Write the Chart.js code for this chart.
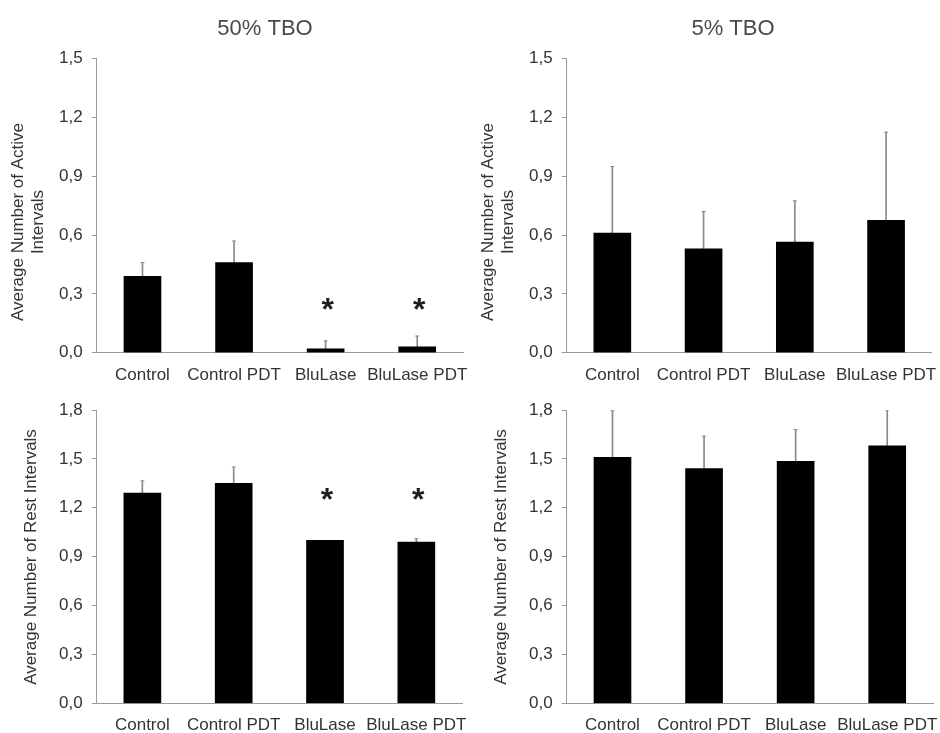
<!DOCTYPE html>
<html>
<head>
<meta charset="utf-8">
<script src="https://cdn.jsdelivr.net/npm/chart.js@4/dist/chart.umd.min.js"></script>
<style>
  html, body { margin: 0; padding: 0; background: #ffffff; }
  #wrap { position: relative; width: 940px; height: 733px; overflow: hidden; }
  .panel { position: absolute; }
</style>
</head>
<body>
<div id="wrap">
  <div class="panel" style="left:0;top:0;width:470px;height:385px"><canvas id="c1"></canvas></div>
  <div class="panel" style="left:470px;top:0;width:470px;height:385px"><canvas id="c2"></canvas></div>
  <div class="panel" style="left:0;top:385px;width:470px;height:348px"><canvas id="c3"></canvas></div>
  <div class="panel" style="left:470px;top:385px;width:470px;height:348px"><canvas id="c4"></canvas></div>
</div>
<script>
// ---- data ----
const categories = ['Control', 'Control PDT', 'BluLase', 'BluLase PDT'];

const panelTitles = ['50% TBO', '5% TBO'];
const activeAxisTitle = ['Average Number of Active', 'Intervals'];
const restAxisTitle = ['Average Number of Rest Intervals'];

const activeTickLabels = ['0,0', '0,3', '0,6', '0,9', '1,2', '1,5'];
const restTickLabels = ['0,0', '0,3', '0,6', '0,9', '1,2', '1,5', '1,8'];

// Active intervals (mean, upper SD)
const active50Mean = [0.39, 0.46, 0.02, 0.03];
const active50Err  = [0.07, 0.11, 0.04, 0.055];
const active50Star = [null, null, 0.235, 0.235];

const active5Mean = [0.61, 0.53, 0.565, 0.675];
const active5Err  = [0.34, 0.19, 0.21, 0.45];
const active5Star = [null, null, null, null];

// Rest intervals (mean, upper SD)
const rest50Mean = [1.29, 1.35, 1.00, 0.99];
const rest50Err  = [0.075, 0.10, 0.0, 0.02];
const rest50Star = [null, null, 1.27, 1.27];

const rest5Mean = [1.51, 1.44, 1.485, 1.58];
const rest5Err  = [0.285, 0.20, 0.195, 0.22];
const rest5Star = [null, null, null, null];

// ---- styling ----
const FONT = "'Liberation Sans', Arial, Helvetica, sans-serif";
const TEXT = '#333333';
const AXIS = '#9a9a9a';
const ERR = '#8a8a8a';

const starPlugin = {
  id: 'stars',
  afterDatasetsDraw(chart, args, opts) {
    const stars = opts.values || [];
    const ctx = chart.ctx;
    const xs = chart.scales.x, ys = chart.scales.y;
    ctx.save();
    ctx.fillStyle = '#1e1e1e';
    ctx.font = 'bold 32px ' + FONT;
    ctx.textAlign = 'center';
    ctx.textBaseline = 'alphabetic';
    stars.forEach((v, i) => {
      if (v === null || v === undefined) return;
      const px = xs.getPixelForValue(i) + 2;
      const py = ys.getPixelForValue(v);
      ctx.fillText('*', px, py + 0.42 * 32);
    });
    ctx.restore();
  }
};

const panelTextPlugin = {
  id: 'panelText',
  afterDraw(chart, args, opts) {
    const ctx = chart.ctx;
    ctx.save();
    if (opts.title) {
      ctx.fillStyle = '#4a4a4a';
      ctx.font = '22px ' + FONT;
      ctx.textAlign = 'center';
      ctx.textBaseline = 'middle';
      ctx.fillText(opts.title.text, opts.title.x, opts.title.y);
    }
    const yt = opts.yTitle;
    ctx.fillStyle = TEXT;
    ctx.font = '17px ' + FONT;
    ctx.textAlign = 'center';
    ctx.textBaseline = 'middle';
    ctx.translate(yt.x, yt.y);
    ctx.rotate(-Math.PI / 2);
    yt.lines.forEach((line, k) => ctx.fillText(line, 0, k * yt.lineHeight));
    ctx.restore();
  }
};

function makeChart(id, cfg) {
  const means = cfg.mean;
  const errs = cfg.err;
  const errData = means.map((m, i) => [m, m + errs[i]]);
  const capData = means.map((m, i) => errs[i] > 0 ? m + errs[i] : null);
  const tickLabels = cfg.tickLabels;
  return new Chart(document.getElementById(id), {
    data: {
      labels: categories,
      datasets: [
        {
          type: 'bar',
          data: means,
          backgroundColor: '#000000',
          borderWidth: 0,
          barThickness: 37,
          grouped: false,
          order: 0
        },
        {
          type: 'bar',
          data: errData,
          backgroundColor: ERR,
          barThickness: 1,
          grouped: false,
          order: 1
        },
        {
          type: 'line',
          data: capData,
          showLine: false,
          pointStyle: 'line',
          pointRadius: 2,
          pointBorderWidth: 1,
          pointBorderColor: ERR,
          borderColor: ERR,
          order: 2
        }
      ]
    },
    options: {
      responsive: true,
      maintainAspectRatio: false,
      animation: false,
      events: [],
      layout: { padding: cfg.padding },
      plugins: {
        legend: { display: false },
        tooltip: { enabled: false },
        title: { display: false },
        stars: { values: cfg.stars },
        panelText: { title: cfg.title, yTitle: cfg.yTitle }
      },
      scales: {
        x: {
          type: 'category',
          offset: true,
          grid: { display: false, drawTicks: false },
          border: { display: true, color: AXIS, width: 1 },
          ticks: {
            color: TEXT,
            font: { family: FONT, size: 17 },
            padding: 12,
            maxRotation: 0,
            autoSkip: false
          },
          afterFit: s => {
            s.height = cfg.xHeight;
            s.paddingLeft = 0;
            s.paddingRight = 0;
          }
        },
        y: {
          min: 0,
          max: cfg.max,
          grid: {
            display: true,
            drawOnChartArea: false,
            drawTicks: true,
            tickLength: 5,
            color: AXIS
          },
          border: { display: true, color: AXIS, width: 1 },
          ticks: {
            stepSize: 0.3,
            color: TEXT,
            font: { family: FONT, size: 17 },
            padding: 9,
            callback: (v, i) => tickLabels[i]
          },
          afterFit: s => {
            s.width = 96.7;
            s.paddingTop = 0;
            s.paddingBottom = 0;
          }
        }
      }
    },
    plugins: [starPlugin, panelTextPlugin]
  });
}

makeChart('c1', {
  mean: active50Mean, err: active50Err, stars: active50Star,
  max: 1.5, tickLabels: activeTickLabels,
  title: { text: panelTitles[0], x: 265, y: 29 },
  padding: { top: 58.7, right: 7, bottom: 0, left: 0 }, xHeight: 32.3,
  yTitle: { lines: activeAxisTitle, x: 18, y: 222, lineHeight: 20 }
});
makeChart('c2', {
  mean: active5Mean, err: active5Err, stars: active5Star,
  max: 1.5, tickLabels: activeTickLabels,
  title: { text: panelTitles[1], x: 263, y: 29 },
  padding: { top: 58.7, right: 8.3, bottom: 0, left: 0 }, xHeight: 32.3,
  yTitle: { lines: activeAxisTitle, x: 18, y: 222, lineHeight: 20 }
});
makeChart('c3', {
  mean: rest50Mean, err: rest50Err, stars: rest50Star,
  max: 1.8, tickLabels: restTickLabels, title: null,
  padding: { top: 25, right: 8, bottom: 0, left: 0 }, xHeight: 29.7,
  yTitle: { lines: restAxisTitle, x: 31.7, y: 172, lineHeight: 20 }
});
makeChart('c4', {
  mean: rest5Mean, err: rest5Err, stars: rest5Star,
  max: 1.8, tickLabels: restTickLabels, title: null,
  padding: { top: 25, right: 7, bottom: 0, left: 0 }, xHeight: 29.7,
  yTitle: { lines: restAxisTitle, x: 31.7, y: 172, lineHeight: 20 }
});
</script>
</body>
</html>
